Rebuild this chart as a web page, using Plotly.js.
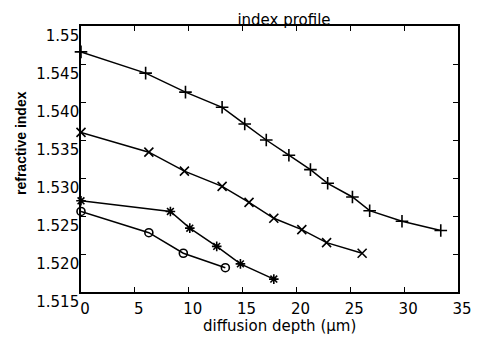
<!DOCTYPE html>
<html>
<head>
<meta charset="utf-8">
<script src="https://cdn.plot.ly/plotly-3.0.1.min.js"></script>
<style>
  html, body { margin: 0; padding: 0; background: #fff; }
  #chart { width: 490px; height: 341px; }
</style>
</head>
<body>
<div id="chart"></div>
<script>
// diffusion depth (µm) and refractive index for each of the four profiles
var depthPlus  = [0, 6.0, 9.7, 13.1, 15.2, 17.2, 19.3, 21.3, 22.9, 25.2, 26.8, 29.8, 33.4];
var indexPlus  = [1.5466, 1.5438, 1.5413, 1.5393, 1.5371, 1.5350, 1.5330, 1.5311, 1.5293, 1.5275, 1.5257, 1.5243, 1.5231];

var depthCross = [0, 6.3, 9.6, 13.1, 15.6, 17.9, 20.5, 22.8, 26.1];
var indexCross = [1.5360, 1.5334, 1.5309, 1.5289, 1.5268, 1.5247, 1.5232, 1.5215, 1.5201];

var depthStar  = [0, 8.3, 10.1, 12.6, 14.8, 17.9];
var indexStar  = [1.5270, 1.5256, 1.5234, 1.5210, 1.5187, 1.5167];

var depthCircle = [0, 6.3, 9.5, 13.4];
var indexCircle = [1.5256, 1.5228, 1.5201, 1.5182];

var xTickVals = [0, 5, 10, 15, 20, 25, 30, 35];
var xTickText = ['0', '5', '10', '15', '20', '25', '30', '35'];
var yTickVals = [1.515, 1.52, 1.525, 1.53, 1.535, 1.54, 1.545, 1.55];
var yTickText = ['1.515', '1.520', '1.525', '1.530', '1.535', '1.540', '1.545', '1.55'];

function series(x, y, symbol, size) {
  return {
    x: x, y: y, type: 'scatter', mode: 'lines+markers',
    line: { color: '#000', width: 1.5 },
    marker: { symbol: symbol, size: size, color: '#000', line: { color: '#000', width: 1.6 } },
    cliponaxis: false,
    showlegend: false,
    hoverinfo: 'x+y'
  };
}

var data = [
  series(depthPlus, indexPlus, 'cross-thin-open', 9),
  series(depthCross, indexCross, 'x-thin-open', 9),
  series(depthStar, indexStar, 'asterisk-open', 8),
  series(depthCircle, indexCircle, 'circle-open', 8)
];

var axisCommon = {
  showgrid: false, zeroline: false,
  showline: true, linecolor: '#000', linewidth: 1.8,
  mirror: 'ticks', ticks: 'inside', ticklen: 5, tickwidth: 1, tickcolor: '#000',
  tickfont: { family: 'DejaVu Sans', size: 15, color: '#000' },
  fixedrange: true
};

var layout = {
  width: 490, height: 341,
  margin: { l: 81, r: 32, t: 26, b: 49, pad: 0 },
  paper_bgcolor: '#fff', plot_bgcolor: '#fff',
  title: {
    text: 'index profile',
    font: { family: 'DejaVu Sans', size: 15, color: '#000' },
    x: (284 - 81) / 377, xref: 'paper', xanchor: 'center',
    y: 1, yref: 'paper', yanchor: 'bottom',
    pad: { b: 1 }
  },
  xaxis: Object.assign({}, axisCommon, {
    range: [0, 35],
    tickmode: 'array', tickvals: xTickVals, ticktext: xTickText,
    ticklabelshift: 4, ticklabelstandoff: 2
  }),
  yaxis: Object.assign({}, axisCommon, {
    range: [1.515, 1.55],
    tickmode: 'array', tickvals: yTickVals, ticktext: yTickText,
    ticklabelshift: 10, ticklabelstandoff: -3
  }),
  annotations: [
    {
      text: 'diffusion depth (\u00b5m)',
      xref: 'paper', yref: 'paper',
      x: (279 - 81) / 377, y: -(326 - 292) / 266,
      xanchor: 'center', yanchor: 'middle',
      showarrow: false,
      font: { family: 'DejaVu Sans', size: 15, color: '#000' }
    },
    {
      text: '<b>refractive index</b>',
      xref: 'paper', yref: 'paper',
      x: (21 - 81) / 377, y: (292 - 143) / 266,
      xanchor: 'center', yanchor: 'middle',
      textangle: -90,
      showarrow: false,
      font: { family: 'Liberation Sans', size: 14, color: '#000' }
    }
  ]
};

Plotly.newPlot('chart', data, layout, { displayModeBar: false, staticPlot: true });
</script>
</body>
</html>
